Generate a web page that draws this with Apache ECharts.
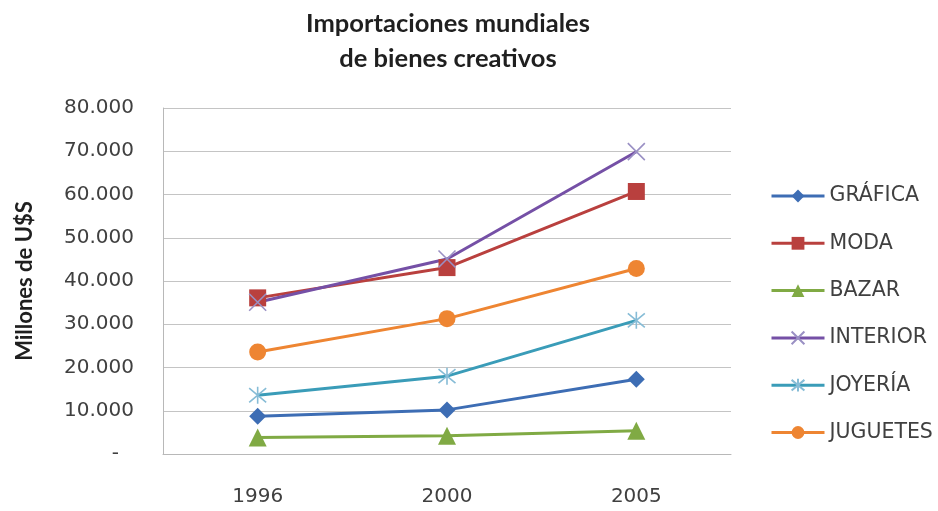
<!DOCTYPE html>
<html>
<head>
<meta charset="utf-8">
<script src="https://cdn.jsdelivr.net/npm/echarts@6/dist/echarts.min.js"></script>
<style>
  html, body { margin: 0; padding: 0; background: #ffffff; }
  #chart { width: 938px; height: 511px; }
</style>
</head>
<body>
<div id="chart"></div>
<script>
// Years on the category axis
const years = ['1996', '2000', '2005'];

// Imports per sector, millions of US$
const grafica  = [8700, 10200, 17300];
const moda     = [36100, 43100, 60700];
const bazar    = [3800, 4200, 5400];
const interior = [35100, 45100, 69900];
const joyeria  = [13600, 18000, 30900];
const juguetes = [23600, 31300, 42900];

// Value axis ticks
const yTicks = [0, 10000, 20000, 30000, 40000, 50000, 60000, 70000, 80000];

const labelFont = 'DejaVu Sans';
const titleFont = 'Lato';
const textColor = '#404040';

// Thin cross and asterisk markers, drawn as strokes
const crossPath = 'path://M0,0L10,10M10,0L0,10';
const starPath = 'path://M0,0L10,10M10,0L0,10M5,-1L5,11';

function fmtThousands(v) {
  return String(v).replace(/\B(?=(\d{3})+(?!\d))/g, '.');
}

function lineSeries(name, data, color, symbol, size, markerColor, stroked) {
  const s = {
    name: name,
    type: 'line',
    data: data,
    symbol: symbol,
    symbolSize: size,
    showAllSymbol: true,
    lineStyle: { color: color, width: 3 },
    itemStyle: { color: markerColor || color },
    emphasis: { disabled: true },
    z: 3
  };
  if (stroked) {
    s.itemStyle = { color: 'none', borderColor: markerColor, borderWidth: 1.6 };
  }
  return s;
}

const chart = echarts.init(document.getElementById('chart'), null, { renderer: 'canvas' });

chart.setOption({
  animation: false,
  backgroundColor: '#ffffff',
  title: {
    text: 'Importaciones mundiales\nde bienes creativos',
    left: 443,
    top: 1,
    textAlign: 'center',
    textStyle: {
      fontFamily: titleFont,
      fontWeight: 'bold',
      fontSize: 25.5,
      lineHeight: 35,
      color: '#1f1f1f'
    }
  },
  legend: {
    orient: 'vertical',
    left: 765,
    top: 180.5,
    itemWidth: 53,
    itemHeight: 16,
    itemGap: 26.3,
    lineStyle: { width: 3 },
    textStyle: { fontFamily: labelFont, fontSize: 20.5, color: textColor },
    data: ['GRÁFICA', 'MODA', 'BAZAR', 'INTERIOR', 'JOYERÍA', 'JUGUETES']
  },
  grid: { left: 163, right: 207, top: 108, bottom: 57, containLabel: false },
  xAxis: {
    type: 'category',
    data: years,
    boundaryGap: true,
    axisLine: { show: true, lineStyle: { color: '#b8b8b8', width: 1 } },
    axisTick: { show: false },
    axisLabel: { fontFamily: labelFont, fontSize: 20, color: textColor, margin: 33 },
    splitLine: { show: false }
  },
  yAxis: {
    type: 'value',
    min: yTicks[0],
    max: yTicks[yTicks.length - 1],
    interval: yTicks[1] - yTicks[0],
    name: 'Millones de U$S',
    nameLocation: 'middle',
    nameGap: 127,
    nameTextStyle: { fontFamily: titleFont, fontWeight: 'bold', fontSize: 22, color: '#1f1f1f' },
    axisLine: { show: true, lineStyle: { color: '#b8b8b8', width: 1 } },
    axisTick: { show: false },
    axisLabel: {
      fontFamily: labelFont,
      fontSize: 20,
      color: textColor,
      margin: 29,
      formatter: function (v) { return v === 0 ? '{d|-}' : fmtThousands(v); },
      rich: { d: { fontFamily: labelFont, fontSize: 20, color: textColor, padding: [0, 15, 0, 0] } }
    },
    splitLine: { show: true, lineStyle: { color: '#c4c4c4', width: 1 } }
  },
  series: [
    lineSeries('GRÁFICA', grafica, '#3d6db4', 'diamond', 17),
    lineSeries('MODA', moda, '#b9403e', 'rect', 17),
    lineSeries('BAZAR', bazar, '#80aa44', 'triangle', 18),
    lineSeries('INTERIOR', interior, '#7550a6', crossPath, 17, '#9a90c4', true),
    lineSeries('JOYERÍA', joyeria, '#3a9cb8', starPath, 17, '#86bcd6', true),
    lineSeries('JUGUETES', juguetes, '#ee8532', 'circle', 17)
  ]
});
</script>
</body>
</html>
